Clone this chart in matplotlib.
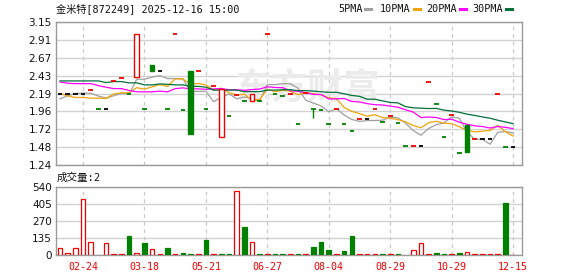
import numpy as np
import matplotlib
matplotlib.use("Agg")
import matplotlib.pyplot as plt
from matplotlib.patches import Rectangle
from matplotlib.lines import Line2D

# --------- dados ---------
titulo = "金米特[872249] 2025-12-16 15:00"
date_idx = [3, 11, 19, 27, 35, 43, 51, 59]
date_labels = ["02-24", "03-18", "05-21", "06-27", "08-04", "08-29", "10-29", "12-15"]
price_ticks = ["1.24", "1.48", "1.72", "1.96", "2.19", "2.43", "2.67", "2.91", "3.15"]
vol_ticks = [0, 135, 270, 405, 540]
ma_names = ["5PMA", "10PMA", "20PMA", "30PMA"]

prev_close = 2.19  # fechamento anterior ao primeiro candle

opens = [2.19, 2.19, 2.19, 2.19, 2.24, 1.99, 1.99, 2.36, 2.40, 2.19,
         2.41, 1.99, 2.57, 2.50, 1.99, 2.99, 1.98, 2.50, 2.50, 1.99,
         2.30, 1.61, 1.90, 2.18, 2.10, 2.10, 2.10, 2.99, 2.19, 2.16,
         2.19, 1.79, 2.20, 1.99, 1.98, 1.79, 1.99, 1.79, 1.69, 1.85,
         1.85, 1.99, 1.81, 1.90, 1.80, 1.49, 1.50, 1.50, 2.35, 2.05,
         1.61, 1.91, 1.40, 1.77, 1.59, 1.59, 1.59, 2.19, 1.48, 1.48]
closes = [2.19, 2.19, 2.19, 2.19, 2.24, 1.99, 1.99, 2.36, 2.40, 2.19,
          2.99, 1.99, 2.50, 2.50, 1.99, 2.99, 1.98, 1.66, 2.50, 1.99,
          2.30, 2.26, 1.90, 2.18, 2.10, 2.19, 2.10, 2.99, 2.19, 2.16,
          2.19, 1.79, 2.20, 1.99, 1.98, 1.79, 1.99, 1.79, 1.69, 1.85,
          1.85, 1.99, 1.81, 1.90, 1.80, 1.49, 1.50, 1.50, 2.35, 2.05,
          1.61, 1.91, 1.40, 1.42, 1.59, 1.59, 1.59, 2.19, 1.48, 1.48]
highs = [2.19, 2.19, 2.19, 2.19, 2.24, 1.99, 1.99, 2.36, 2.40, 2.19,
         2.99, 1.99, 2.57, 2.50, 1.99, 2.99, 1.98, 2.50, 2.50, 1.99,
         2.30, 2.26, 1.90, 2.18, 2.10, 2.19, 2.10, 2.99, 2.19, 2.16,
         2.19, 1.79, 2.20, 1.99, 1.98, 1.79, 1.99, 1.79, 1.69, 1.85,
         1.85, 1.99, 1.81, 1.90, 1.80, 1.49, 1.50, 1.50, 2.35, 2.05,
         1.61, 1.91, 1.40, 1.77, 1.59, 1.59, 1.59, 2.19, 1.48, 1.48]
lows = [2.19, 2.19, 2.19, 2.19, 2.24, 1.99, 1.99, 2.36, 2.40, 2.19,
        2.41, 1.99, 2.50, 2.50, 1.99, 2.99, 1.98, 1.66, 2.50, 1.99,
        2.30, 1.61, 1.90, 2.18, 2.10, 2.10, 2.10, 2.99, 2.19, 2.16,
        2.19, 1.79, 2.20, 1.87, 1.98, 1.79, 1.99, 1.79, 1.69, 1.85,
        1.85, 1.99, 1.81, 1.90, 1.80, 1.49, 1.50, 1.50, 2.35, 2.05,
        1.61, 1.91, 1.40, 1.42, 1.59, 1.59, 1.59, 2.19, 1.48, 1.48]
volumes = [53, 16, 53, 442, 103, 0, 95, 5, 5, 151,
           16, 95, 48, 5, 56, 5, 16, 5, 5, 119,
           5, 5, 5, 506, 222, 103, 5, 5, 5, 5,
           5, 5, 5, 64, 103, 40, 5, 32, 151, 5,
           5, 5, 5, 5, 5, 0, 37, 93, 5, 16,
           5, 5, 16, 24, 5, 5, 5, 5, 413, 2]

ma5 = [2.124, 2.164, 2.195, 2.199, 2.20, 2.16, 2.135, 2.165, 2.196, 2.186,
       2.386, 2.386, 2.414, 2.434, 2.394, 2.394, 2.392, 2.224, 2.224, 2.224,
       2.086, 2.142, 2.19, 2.126, 2.148, 2.126, 2.094, 2.312, 2.314, 2.326,
       2.326, 2.264, 2.106, 2.066, 2.03, 1.95, 1.99, 1.908, 1.848, 1.822,
       1.834, 1.834, 1.838, 1.88, 1.87, 1.798, 1.70, 1.638, 1.728, 1.778,
       1.802, 1.884, 1.864, 1.678, 1.586, 1.582, 1.518, 1.676, 1.688, 1.666]
ma10 = [2.195, 2.164, 2.142, 2.142, 2.133, 2.133, 2.129, 2.19, 2.204, 2.205,
        2.273, 2.253, 2.284, 2.315, 2.29, 2.39, 2.389, 2.319, 2.329, 2.309,
        2.24, 2.267, 2.207, 2.175, 2.186, 2.106, 2.118, 2.251, 2.22, 2.237,
        2.226, 2.179, 2.209, 2.19, 2.178, 2.138, 2.127, 2.007, 1.957, 1.926,
        1.892, 1.912, 1.873, 1.864, 1.846, 1.816, 1.767, 1.738, 1.804, 1.824,
        1.80, 1.792, 1.751, 1.703, 1.682, 1.692, 1.701, 1.77, 1.683, 1.626]
ma20 = [2.35, 2.332, 2.327, 2.327, 2.327, 2.30, 2.279, 2.26, 2.26, 2.235,
        2.217, 2.217, 2.217, 2.226, 2.217, 2.26, 2.27, 2.257, 2.257, 2.251,
        2.257, 2.26, 2.246, 2.245, 2.238, 2.248, 2.254, 2.285, 2.275, 2.273,
        2.233, 2.223, 2.208, 2.183, 2.182, 2.122, 2.123, 2.129, 2.089, 2.082,
        2.059, 2.046, 2.041, 2.027, 2.012, 1.977, 1.947, 1.873, 1.881, 1.875,
        1.846, 1.852, 1.812, 1.784, 1.764, 1.754, 1.734, 1.754, 1.744, 1.725]
ma30 = [2.363, 2.363, 2.363, 2.363, 2.363, 2.363, 2.341, 2.354, 2.354, 2.337,
        2.337, 2.31, 2.31, 2.323, 2.318, 2.31, 2.31, 2.29, 2.29, 2.28,
        2.24, 2.24, 2.24, 2.24, 2.22, 2.22, 2.22, 2.24, 2.24, 2.246,
        2.246, 2.233, 2.233, 2.227, 2.218, 2.211, 2.211, 2.192, 2.169, 2.157,
        2.119, 2.119, 2.096, 2.076, 2.07, 2.02, 2.004, 1.999, 1.994, 1.996,
        1.973, 1.961, 1.944, 1.919, 1.902, 1.882, 1.865, 1.838, 1.815, 1.792]

# --------- estilo ---------
RED = "#f00000"
GREEN = "#008000"
MA_COLORS = ["#a0a0a0", "#f0a30a", "#ff00ff", "#00703c"]
GRID = "#d2d2d2"
FRAME = "#9a9a9a"
MONO = ["DejaVu Sans Mono", "Noto Sans CJK SC"]

W, H = 578, 276
fig = plt.figure(figsize=(W / 100, H / 100), dpi=100)
ax = fig.add_axes([56 / W, 1 - 165 / H, 466 / W, 143 / H])
axv = fig.add_axes([56 / W, 1 - 255 / H, 466 / W, 68 / H])

n = len(closes)
x = np.arange(n)
bw = 0.6

for a in (ax, axv):
    a.set_xlim(-0.52, n + 0.16)
    for s in a.spines.values():
        s.set_color(FRAME)
        s.set_linewidth(1.0)
    for d in date_idx:
        a.axvline(d, color="#c8c8c8", lw=0.9, ls=(0, (3, 3)), zorder=0.6)
    a.grid(axis="y", color=GRID, lw=1.0, zorder=0.5)
    a.set_axisbelow(True)
    a.tick_params(length=0, labelsize=7.5, labelcolor="#111111", pad=3)

# --- painel de preço ---
ax.set_ylim(1.24, 3.15)
ax.set_yticks(np.linspace(1.24, 3.15, len(price_ticks)), price_ticks)
ax.set_xticks(date_idx)
ax.tick_params(axis="x", labelbottom=False)

ax.text(308 / W, 1 - 88 / H, "东方财富", transform=fig.transFigure, ha="center", va="center",
        fontsize=26, fontweight="bold", color="#ebebeb", family="Noto Sans CJK SC", zorder=0.7)

for vals, cor in zip([ma5, ma10, ma20, ma30], MA_COLORS):
    ax.plot(x, vals, color=cor, lw=0.9, zorder=2)

pc = prev_close
for i in range(n):
    o, c, hi, lo = opens[i], closes[i], highs[i], lows[i]
    if c > o:
        cor = RED
    elif c < o:
        cor = GREEN
    else:
        cor = RED if c > pc else (GREEN if c < pc else "black")
    if hi > max(o, c) or lo < min(o, c):
        ax.vlines(i, lo, hi, color=cor, lw=1.0, zorder=3)
    if c == o:
        ax.hlines(c, i - bw / 2, i + bw / 2, color=cor, lw=1.3, zorder=4)
    else:
        face = "white" if c > o else GREEN
        ax.add_patch(Rectangle((i - bw / 2, min(o, c)), bw, abs(c - o),
                               facecolor=face, edgecolor=cor, lw=1.0, zorder=4))
    pc = c

# --- painel de volume ---
axv.set_ylim(0, 540)
axv.set_yticks(vol_ticks, [str(v) for v in vol_ticks])
axv.set_xticks(date_idx, date_labels)
axv.tick_params(axis="x", labelcolor=RED, pad=5)
for lb in axv.get_xticklabels():
    lb.set_family(MONO)
    lb.set_fontsize(7.2)

pc = prev_close
for i in range(n):
    v, c = volumes[i], closes[i]
    if v > 0:
        if c >= pc:
            axv.bar(i, v, width=bw, facecolor="white", edgecolor=RED, lw=0.9, zorder=3)
        else:
            axv.bar(i, v, width=bw, facecolor=GREEN, edgecolor=GREEN, lw=0.9, zorder=3)
    pc = c

# --- textos ---
fig.text(56 / W, 1 - 9 / H, titulo, ha="left", va="center", fontsize=7.3, family=MONO, color="#111111")
fig.text(57 / W, 1 - 178 / H, f"成交量:{volumes[-1]}", ha="left", va="center",
         fontsize=7.6, family=MONO, color="#111111")

leg_x = [338, 380, 426, 472]
for nome, cor, lx in zip(ma_names, MA_COLORS, leg_x):
    t = fig.text(lx / W, 1 - 9 / H, nome, ha="left", va="center", fontsize=7.3, family=MONO, color="#111111")
    mx = lx + 6.1 * len(nome) + 3
    fig.add_artist(Line2D([mx / W, (mx + 6) / W], [1 - 9 / H, 1 - 9 / H], color=cor, lw=2.2))

fig.savefig("out.png", dpi=100)
